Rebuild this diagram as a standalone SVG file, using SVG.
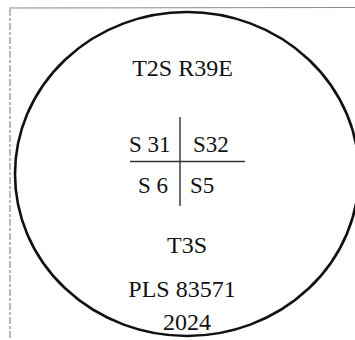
<svg xmlns="http://www.w3.org/2000/svg" width="355" height="340" viewBox="0 0 355 340">
  <style>
    .t { font-family: 'Liberation Serif', 'DejaVu Serif', 'Times New Roman', Times, serif; fill: #111; font-size: 24px; }
    .q { font-size: 23px; }
    .frame { stroke: #8a8a8a; fill: none; stroke-width: 1.2; }
    .cross { stroke: #333; stroke-width: 1.4; fill: none; }
  </style>
  <rect width="355" height="340" fill="#fff"/>
  <g id="frame">
    <line class="frame" x1="9" y1="8" x2="355" y2="7.5"/>
    <line class="frame" x1="10" y1="9" x2="10" y2="340" stroke-dasharray="7,2,3,2"/>
  </g>
  <g id="seal">
    <ellipse cx="187" cy="174" rx="172" ry="162" fill="none" stroke="#111" stroke-width="2.6"/>
  </g>
  <g id="title" font-family="Liberation Serif, serif">
    <text class="t" x="182.5" y="76" text-anchor="middle">T2S R39E</text>
  </g>
  <g id="grid" font-family="Liberation Serif, serif">
    <line class="cross" x1="180" y1="117" x2="180" y2="206"/>
    <line class="cross" x1="130" y1="161.5" x2="245" y2="161.5"/>
    <text class="t q" x="129" y="152">S 31</text>
    <text class="t q" x="193" y="152">S32</text>
    <text class="t q" x="138" y="193">S 6</text>
    <text class="t q" x="190" y="193">S5</text>
  </g>
  <g id="footer" font-family="Liberation Serif, serif">
    <text class="t" x="187" y="253" text-anchor="middle">T3S</text>
    <text class="t" x="182" y="297" text-anchor="middle">PLS 83571</text>
    <text class="t" x="187" y="330" text-anchor="middle">2024</text>
  </g>
</svg>
